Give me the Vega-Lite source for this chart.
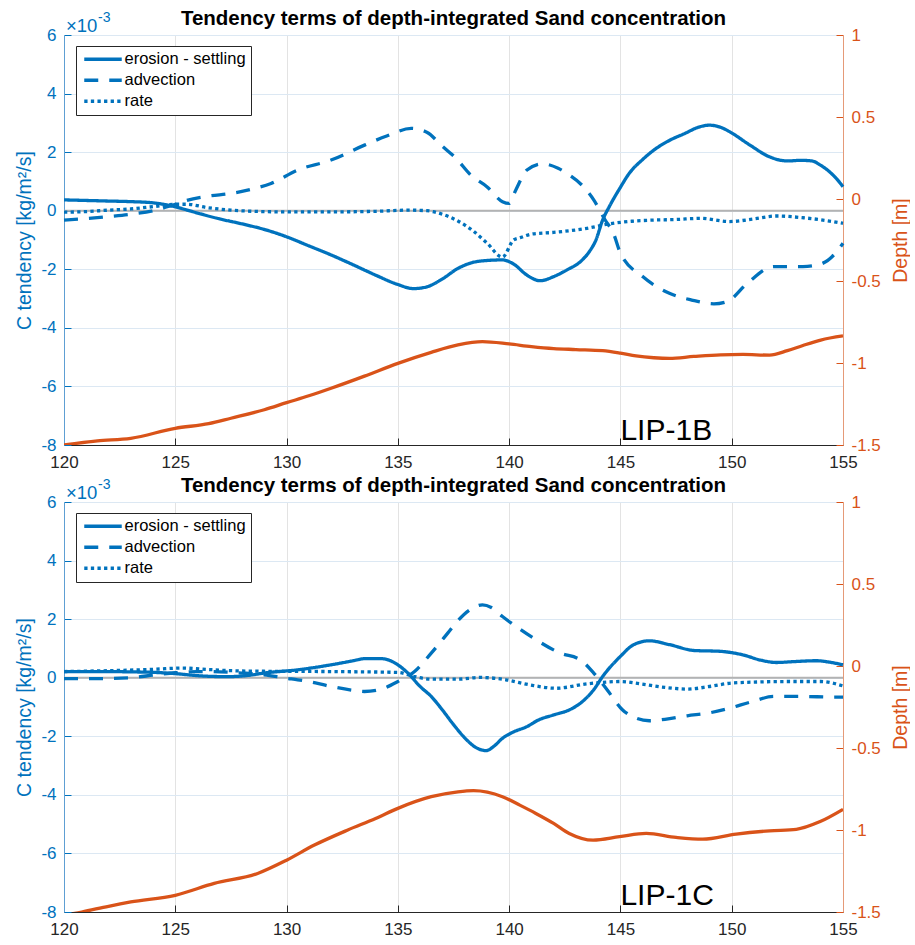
{
  "$schema": "https://vega.github.io/schema/vega-lite/v6.json",
  "padding": {"left": 14, "top": 8, "right": 0, "bottom": 2},
  "bounds": "flush",
  "spacing": 57,
  "config": {
    "view": {"stroke": null},
    "font": "Liberation Sans",
    "axis": {"labelFont": "Liberation Sans", "titleFont": "Liberation Sans", "labelFlush": false, "labelOverlap": false}
  },
  "datasets": {
    "zero": [{"v": 0}],
    "topTerms": [
      {"x":120,"v":0.37,"t":"erosion - settling"},{"x":121,"v":0.35,"t":"erosion - settling"},{"x":122,"v":0.33,"t":"erosion - settling"},{"x":123,"v":0.31,"t":"erosion - settling"},{"x":124,"v":0.27,"t":"erosion - settling"},{"x":124.6,"v":0.2,"t":"erosion - settling"},{"x":125,"v":0.13,"t":"erosion - settling"},{"x":125.5,"v":0.03,"t":"erosion - settling"},{"x":126,"v":-0.08,"t":"erosion - settling"},{"x":127,"v":-0.28,"t":"erosion - settling"},{"x":128,"v":-0.45,"t":"erosion - settling"},{"x":129,"v":-0.64,"t":"erosion - settling"},{"x":130,"v":-0.89,"t":"erosion - settling"},{"x":131,"v":-1.2,"t":"erosion - settling"},{"x":132,"v":-1.51,"t":"erosion - settling"},{"x":133,"v":-1.85,"t":"erosion - settling"},{"x":134,"v":-2.2,"t":"erosion - settling"},{"x":135,"v":-2.52,"t":"erosion - settling"},{"x":135.7,"v":-2.66,"t":"erosion - settling"},{"x":136.3,"v":-2.6,"t":"erosion - settling"},{"x":137,"v":-2.33,"t":"erosion - settling"},{"x":137.7,"v":-1.97,"t":"erosion - settling"},{"x":138.3,"v":-1.78,"t":"erosion - settling"},{"x":139,"v":-1.7,"t":"erosion - settling"},{"x":139.7,"v":-1.68,"t":"erosion - settling"},{"x":140.2,"v":-1.82,"t":"erosion - settling"},{"x":140.8,"v":-2.2,"t":"erosion - settling"},{"x":141.4,"v":-2.39,"t":"erosion - settling"},{"x":142,"v":-2.25,"t":"erosion - settling"},{"x":142.6,"v":-2.02,"t":"erosion - settling"},{"x":143.2,"v":-1.74,"t":"erosion - settling"},{"x":143.6,"v":-1.4,"t":"erosion - settling"},{"x":143.9,"v":-1.0,"t":"erosion - settling"},{"x":144.2,"v":-0.32,"t":"erosion - settling"},{"x":144.5,"v":0.14,"t":"erosion - settling"},{"x":145,"v":0.8,"t":"erosion - settling"},{"x":145.4,"v":1.28,"t":"erosion - settling"},{"x":146,"v":1.75,"t":"erosion - settling"},{"x":146.5,"v":2.07,"t":"erosion - settling"},{"x":147.2,"v":2.4,"t":"erosion - settling"},{"x":147.9,"v":2.64,"t":"erosion - settling"},{"x":148.5,"v":2.85,"t":"erosion - settling"},{"x":149,"v":2.92,"t":"erosion - settling"},{"x":149.5,"v":2.85,"t":"erosion - settling"},{"x":149.9,"v":2.7,"t":"erosion - settling"},{"x":150.8,"v":2.25,"t":"erosion - settling"},{"x":151.7,"v":1.84,"t":"erosion - settling"},{"x":152.5,"v":1.7,"t":"erosion - settling"},{"x":153.1,"v":1.72,"t":"erosion - settling"},{"x":153.6,"v":1.7,"t":"erosion - settling"},{"x":154,"v":1.55,"t":"erosion - settling"},{"x":154.3,"v":1.39,"t":"erosion - settling"},{"x":154.7,"v":1.1,"t":"erosion - settling"},{"x":155,"v":0.82,"t":"erosion - settling"},
      {"x":120,"v":-0.32,"t":"advection"},{"x":121,"v":-0.27,"t":"advection"},{"x":122,"v":-0.2,"t":"advection"},{"x":123,"v":-0.12,"t":"advection"},{"x":124,"v":0.0,"t":"advection"},{"x":125,"v":0.22,"t":"advection"},{"x":125.5,"v":0.35,"t":"advection"},{"x":126.5,"v":0.5,"t":"advection"},{"x":127.5,"v":0.59,"t":"advection"},{"x":128.5,"v":0.75,"t":"advection"},{"x":129.3,"v":0.93,"t":"advection"},{"x":130.5,"v":1.39,"t":"advection"},{"x":132,"v":1.73,"t":"advection"},{"x":133.5,"v":2.24,"t":"advection"},{"x":134.5,"v":2.55,"t":"advection"},{"x":135.6,"v":2.81,"t":"advection"},{"x":136.3,"v":2.68,"t":"advection"},{"x":137,"v":2.2,"t":"advection"},{"x":137.6,"v":1.8,"t":"advection"},{"x":138.3,"v":1.2,"t":"advection"},{"x":139,"v":0.82,"t":"advection"},{"x":139.7,"v":0.31,"t":"advection"},{"x":140,"v":0.25,"t":"advection"},{"x":140.3,"v":0.71,"t":"advection"},{"x":140.8,"v":1.39,"t":"advection"},{"x":141.5,"v":1.6,"t":"advection"},{"x":142.2,"v":1.45,"t":"advection"},{"x":142.7,"v":1.22,"t":"advection"},{"x":143.3,"v":0.85,"t":"advection"},{"x":143.8,"v":0.37,"t":"advection"},{"x":144.3,"v":-0.3,"t":"advection"},{"x":144.7,"v":-0.8,"t":"advection"},{"x":145,"v":-1.45,"t":"advection"},{"x":146,"v":-2.25,"t":"advection"},{"x":147.2,"v":-2.82,"t":"advection"},{"x":148.2,"v":-3.05,"t":"advection"},{"x":149.2,"v":-3.18,"t":"advection"},{"x":149.8,"v":-3.1,"t":"advection"},{"x":150.7,"v":-2.48,"t":"advection"},{"x":151.9,"v":-1.91,"t":"advection"},{"x":153.2,"v":-1.91,"t":"advection"},{"x":154,"v":-1.82,"t":"advection"},{"x":154.6,"v":-1.5,"t":"advection"},{"x":155,"v":-1.11,"t":"advection"},
      {"x":120,"v":-0.05,"t":"rate"},{"x":121,"v":-0.03,"t":"rate"},{"x":122,"v":0.02,"t":"rate"},{"x":123,"v":0.06,"t":"rate"},{"x":124,"v":0.14,"t":"rate"},{"x":125,"v":0.22,"t":"rate"},{"x":125.5,"v":0.22,"t":"rate"},{"x":126.5,"v":0.1,"t":"rate"},{"x":127.5,"v":0.02,"t":"rate"},{"x":128.5,"v":-0.02,"t":"rate"},{"x":130,"v":-0.04,"t":"rate"},{"x":132,"v":-0.04,"t":"rate"},{"x":134,"v":-0.02,"t":"rate"},{"x":135.5,"v":0.02,"t":"rate"},{"x":136.3,"v":0.0,"t":"rate"},{"x":137,"v":-0.12,"t":"rate"},{"x":137.7,"v":-0.35,"t":"rate"},{"x":138.4,"v":-0.7,"t":"rate"},{"x":139,"v":-1.1,"t":"rate"},{"x":139.7,"v":-1.58,"t":"rate"},{"x":140.2,"v":-1.0,"t":"rate"},{"x":140.5,"v":-0.92,"t":"rate"},{"x":141,"v":-0.8,"t":"rate"},{"x":142,"v":-0.74,"t":"rate"},{"x":143.5,"v":-0.6,"t":"rate"},{"x":144.5,"v":-0.45,"t":"rate"},{"x":145.5,"v":-0.36,"t":"rate"},{"x":146.5,"v":-0.32,"t":"rate"},{"x":147.5,"v":-0.3,"t":"rate"},{"x":148.6,"v":-0.26,"t":"rate"},{"x":149.9,"v":-0.37,"t":"rate"},{"x":151,"v":-0.28,"t":"rate"},{"x":152,"v":-0.18,"t":"rate"},{"x":153.2,"v":-0.24,"t":"rate"},{"x":154.2,"v":-0.33,"t":"rate"},{"x":155,"v":-0.43,"t":"rate"}
    ],
    "topDepth": [
      {"x":120,"d":-1.5},{"x":121.5,"d":-1.475},{"x":123,"d":-1.459},{"x":125,"d":-1.398},{"x":126.5,"d":-1.37},{"x":127.5,"d":-1.337},{"x":129,"d":-1.285},{"x":130,"d":-1.242},{"x":131,"d":-1.2},{"x":132,"d":-1.154},{"x":133.5,"d":-1.08},{"x":135,"d":-1.002},{"x":136.5,"d":-0.935},{"x":137.7,"d":-0.89},{"x":138.8,"d":-0.87},{"x":140,"d":-0.884},{"x":141,"d":-0.9},{"x":142,"d":-0.912},{"x":143,"d":-0.918},{"x":144.2,"d":-0.925},{"x":145,"d":-0.94},{"x":145.7,"d":-0.957},{"x":146.5,"d":-0.968},{"x":147.2,"d":-0.972},{"x":148.3,"d":-0.96},{"x":149.5,"d":-0.95},{"x":150.5,"d":-0.948},{"x":151.7,"d":-0.952},{"x":152.5,"d":-0.925},{"x":153.2,"d":-0.893},{"x":154,"d":-0.86},{"x":155,"d":-0.835}
    ],
    "botTerms": [
      {"x":120,"v":0.21,"t":"erosion - settling"},{"x":121.5,"v":0.21,"t":"erosion - settling"},{"x":123,"v":0.2,"t":"erosion - settling"},{"x":124.1,"v":0.18,"t":"erosion - settling"},{"x":125,"v":0.14,"t":"erosion - settling"},{"x":126,"v":0.07,"t":"erosion - settling"},{"x":127,"v":0.04,"t":"erosion - settling"},{"x":127.5,"v":0.04,"t":"erosion - settling"},{"x":128.3,"v":0.08,"t":"erosion - settling"},{"x":129,"v":0.16,"t":"erosion - settling"},{"x":130.5,"v":0.27,"t":"erosion - settling"},{"x":132,"v":0.44,"t":"erosion - settling"},{"x":133,"v":0.58,"t":"erosion - settling"},{"x":133.5,"v":0.65,"t":"erosion - settling"},{"x":134.25,"v":0.65,"t":"erosion - settling"},{"x":134.7,"v":0.57,"t":"erosion - settling"},{"x":135,"v":0.44,"t":"erosion - settling"},{"x":135.45,"v":0.16,"t":"erosion - settling"},{"x":136,"v":-0.3,"t":"erosion - settling"},{"x":136.5,"v":-0.64,"t":"erosion - settling"},{"x":137,"v":-1.1,"t":"erosion - settling"},{"x":137.5,"v":-1.6,"t":"erosion - settling"},{"x":138,"v":-2.05,"t":"erosion - settling"},{"x":138.5,"v":-2.38,"t":"erosion - settling"},{"x":138.97,"v":-2.49,"t":"erosion - settling"},{"x":139.3,"v":-2.35,"t":"erosion - settling"},{"x":139.7,"v":-2.07,"t":"erosion - settling"},{"x":140.2,"v":-1.85,"t":"erosion - settling"},{"x":140.8,"v":-1.67,"t":"erosion - settling"},{"x":141.3,"v":-1.45,"t":"erosion - settling"},{"x":142,"v":-1.27,"t":"erosion - settling"},{"x":142.7,"v":-1.1,"t":"erosion - settling"},{"x":143.2,"v":-0.87,"t":"erosion - settling"},{"x":143.8,"v":-0.41,"t":"erosion - settling"},{"x":144.2,"v":0.04,"t":"erosion - settling"},{"x":145,"v":0.73,"t":"erosion - settling"},{"x":145.6,"v":1.13,"t":"erosion - settling"},{"x":146.3,"v":1.26,"t":"erosion - settling"},{"x":147.2,"v":1.13,"t":"erosion - settling"},{"x":148.3,"v":0.93,"t":"erosion - settling"},{"x":149.5,"v":0.9,"t":"erosion - settling"},{"x":150.5,"v":0.78,"t":"erosion - settling"},{"x":151.3,"v":0.6,"t":"erosion - settling"},{"x":152,"v":0.52,"t":"erosion - settling"},{"x":152.8,"v":0.55,"t":"erosion - settling"},{"x":153.8,"v":0.58,"t":"erosion - settling"},{"x":154.4,"v":0.53,"t":"erosion - settling"},{"x":155,"v":0.44,"t":"erosion - settling"},
      {"x":120,"v":-0.03,"t":"advection"},{"x":121.5,"v":-0.03,"t":"advection"},{"x":123,"v":0.0,"t":"advection"},{"x":124.1,"v":0.1,"t":"advection"},{"x":125,"v":0.17,"t":"advection"},{"x":126,"v":0.21,"t":"advection"},{"x":127,"v":0.2,"t":"advection"},{"x":128,"v":0.16,"t":"advection"},{"x":129,"v":0.1,"t":"advection"},{"x":130,"v":-0.02,"t":"advection"},{"x":130.5,"v":-0.07,"t":"advection"},{"x":131.3,"v":-0.18,"t":"advection"},{"x":132,"v":-0.3,"t":"advection"},{"x":133,"v":-0.43,"t":"advection"},{"x":133.5,"v":-0.47,"t":"advection"},{"x":134.25,"v":-0.39,"t":"advection"},{"x":135,"v":-0.13,"t":"advection"},{"x":135.75,"v":0.21,"t":"advection"},{"x":136.5,"v":0.84,"t":"advection"},{"x":137.25,"v":1.53,"t":"advection"},{"x":137.7,"v":1.95,"t":"advection"},{"x":138.3,"v":2.35,"t":"advection"},{"x":138.8,"v":2.49,"t":"advection"},{"x":139.2,"v":2.4,"t":"advection"},{"x":139.7,"v":2.09,"t":"advection"},{"x":140.5,"v":1.65,"t":"advection"},{"x":141.2,"v":1.3,"t":"advection"},{"x":142.3,"v":0.84,"t":"advection"},{"x":143.2,"v":0.61,"t":"advection"},{"x":143.8,"v":0.16,"t":"advection"},{"x":144.4,"v":-0.41,"t":"advection"},{"x":145.1,"v":-1.1,"t":"advection"},{"x":145.7,"v":-1.38,"t":"advection"},{"x":146.3,"v":-1.47,"t":"advection"},{"x":147,"v":-1.42,"t":"advection"},{"x":148,"v":-1.3,"t":"advection"},{"x":149,"v":-1.2,"t":"advection"},{"x":149.9,"v":-1.04,"t":"advection"},{"x":150.9,"v":-0.82,"t":"advection"},{"x":151.9,"v":-0.64,"t":"advection"},{"x":153.2,"v":-0.64,"t":"advection"},{"x":154.5,"v":-0.66,"t":"advection"},{"x":155,"v":-0.66,"t":"advection"},
      {"x":120,"v":0.21,"t":"rate"},{"x":122,"v":0.24,"t":"rate"},{"x":124.1,"v":0.29,"t":"rate"},{"x":125.3,"v":0.33,"t":"rate"},{"x":126.5,"v":0.28,"t":"rate"},{"x":127.5,"v":0.24,"t":"rate"},{"x":129,"v":0.22,"t":"rate"},{"x":132,"v":0.21,"t":"rate"},{"x":135,"v":0.18,"t":"rate"},{"x":135.75,"v":0.04,"t":"rate"},{"x":136.5,"v":-0.05,"t":"rate"},{"x":137.7,"v":-0.05,"t":"rate"},{"x":138.7,"v":0.01,"t":"rate"},{"x":139.85,"v":-0.07,"t":"rate"},{"x":140.9,"v":-0.24,"t":"rate"},{"x":142.1,"v":-0.36,"t":"rate"},{"x":143.5,"v":-0.21,"t":"rate"},{"x":145,"v":-0.13,"t":"rate"},{"x":145.9,"v":-0.21,"t":"rate"},{"x":147,"v":-0.33,"t":"rate"},{"x":148,"v":-0.39,"t":"rate"},{"x":149,"v":-0.3,"t":"rate"},{"x":149.9,"v":-0.19,"t":"rate"},{"x":151,"v":-0.15,"t":"rate"},{"x":152.5,"v":-0.13,"t":"rate"},{"x":154,"v":-0.13,"t":"rate"},{"x":155,"v":-0.28,"t":"rate"}
    ],
    "botDepth": [
      {"x":120,"d":-1.52},{"x":120.8,"d":-1.5},{"x":122,"d":-1.465},{"x":123,"d":-1.439},{"x":125,"d":-1.398},{"x":126.75,"d":-1.326},{"x":128.7,"d":-1.265},{"x":130,"d":-1.184},{"x":131.25,"d":-1.092},{"x":132.75,"d":-1.0},{"x":134,"d":-0.93},{"x":135,"d":-0.868},{"x":136.5,"d":-0.797},{"x":137.7,"d":-0.767},{"x":138.4,"d":-0.76},{"x":139.7,"d":-0.797},{"x":140.5,"d":-0.85},{"x":141.2,"d":-0.899},{"x":142,"d":-0.96},{"x":142.7,"d":-1.021},{"x":143.77,"d":-1.062},{"x":144.96,"d":-1.041},{"x":146.16,"d":-1.021},{"x":147.5,"d":-1.045},{"x":148.7,"d":-1.056},{"x":150.2,"d":-1.025},{"x":151.7,"d":-1.005},{"x":152.9,"d":-0.996},{"x":153.95,"d":-0.95},{"x":155,"d":-0.874}
    ],
    "note": [{"x":120,"y":6,"base":"×10","exp":"-3"}],
    "topLabel": [{"x":145,"y":-7.83,"label":"LIP-1B"}],
    "botLabel": [{"x":145,"y":-7.77,"label":"LIP-1C"}]
  },
  "vconcat": [
    {
      "width": 779, "height": 410,
      "title": {"text": "Tendency terms of depth-integrated Sand concentration", "anchor": "middle", "offset": 8, "dy": 26, "fontSize": 20.5, "fontWeight": "bold", "color": "black", "font": "Liberation Sans"},
      "layer": [
        {
          "layer": [
            {"data": {"name": "zero"}, "mark": {"type": "rule", "color": "#b3b3b3", "strokeWidth": 2}, "encoding": {"y": {"field": "v", "type": "quantitative"}}},
            {
              "data": {"name": "topTerms"},
              "mark": {"type": "line", "color": "#0072BD", "strokeWidth": 3.3, "interpolate": "monotone"},
              "encoding": {
                "x": {"field": "x", "type": "quantitative", "scale": {"domain": [120, 155], "nice": false, "zero": false},
                  "axis": {"title": null, "values": [120,125,130,135,140,145,150,155], "labelExpr": "datum.value + ''", "grid": true, "gridColor": "#e3e3e3", "domainColor": "#262626", "tickColor": "#262626", "tickSize": -7, "labelPadding": 16, "labelColor": "#262626", "labelFontSize": 17}},
                "y": {"field": "v", "type": "quantitative", "scale": {"domain": [-8, 6], "nice": false, "zero": false},
                  "axis": {"title": "C tendency [kg/m²/s]", "values": [-8,-6,-4,-2,0,2,4,6], "labelExpr": "datum.value + ''", "grid": true, "gridColor": "#dce8f3", "domainColor": "#5e9fd3", "tickColor": "#0072BD", "tickSize": -7, "labelPadding": 15, "labelColor": "#0072BD", "labelFontSize": 17, "titleColor": "#0072BD", "titleFontSize": 19.5, "titleFontWeight": "normal", "titlePadding": 6}},
                "strokeDash": {"field": "t", "type": "nominal",
                  "scale": {"domain": ["erosion - settling", "advection", "rate"], "range": [[1, 0], [14, 11], [3.3, 3.3]]},
                  "legend": {"title": null, "orient": "none", "legendX": 12, "legendY": 11, "strokeColor": "#262626", "fillColor": "white", "padding": 5, "symbolType": "M-1,0H6.5", "symbolFillColor": "transparent", "symbolStrokeWidth": 3.3, "symbolStrokeColor": "#0072BD", "symbolSize": 100, "labelFontSize": 16.5, "labelColor": "black", "labelFont": "Liberation Sans", "labelOffset": 27, "rowPadding": 4}}
              }
            },
            {"data": {"name": "note"}, "mark": {"type": "text", "align": "left", "baseline": "alphabetic", "dx": 2, "dy": -3, "fontSize": 18.5, "color": "#0072BD"}, "encoding": {"x": {"field": "x", "type": "quantitative"}, "y": {"field": "y", "type": "quantitative"}, "text": {"field": "base"}}},
            {"data": {"name": "note"}, "mark": {"type": "text", "align": "left", "baseline": "alphabetic", "dx": 34, "dy": -13, "fontSize": 14, "color": "#0072BD"}, "encoding": {"x": {"field": "x", "type": "quantitative"}, "y": {"field": "y", "type": "quantitative"}, "text": {"field": "exp"}}},
            {"data": {"name": "topLabel"}, "mark": {"type": "text", "align": "left", "baseline": "alphabetic", "fontSize": 30, "color": "black"}, "encoding": {"x": {"field": "x", "type": "quantitative"}, "y": {"field": "y", "type": "quantitative"}, "text": {"field": "label"}}}
          ]
        },
        {
          "data": {"name": "topDepth"},
          "mark": {"type": "line", "color": "#D95319", "strokeWidth": 3.3, "interpolate": "monotone", "clip": true},
          "encoding": {
            "x": {"field": "x", "type": "quantitative"},
            "y": {"field": "d", "type": "quantitative", "scale": {"domain": [-1.5, 1], "nice": false, "zero": false},
              "axis": {"orient": "right", "title": "Depth [m]", "titleAngle": 270, "titleBaseline": "top", "values": [-1.5,-1,-0.5,0,0.5,1], "labelExpr": "datum.value + ''", "grid": false, "domainColor": "#e59a78", "tickColor": "#D95319", "tickSize": -7, "labelPadding": 15, "labelColor": "#D95319", "labelFontSize": 17, "titleColor": "#D95319", "titleFontSize": 19.5, "titleFontWeight": "normal", "titlePadding": 11}}
          }
        }
      ],
      "resolve": {"scale": {"y": "independent"}}
    },
    {
      "width": 779, "height": 410,
      "title": {"text": "Tendency terms of depth-integrated Sand concentration", "anchor": "middle", "offset": 8, "dy": 26, "fontSize": 20.5, "fontWeight": "bold", "color": "black", "font": "Liberation Sans"},
      "layer": [
        {
          "layer": [
            {"data": {"name": "zero"}, "mark": {"type": "rule", "color": "#b3b3b3", "strokeWidth": 2}, "encoding": {"y": {"field": "v", "type": "quantitative"}}},
            {
              "data": {"name": "botTerms"},
              "mark": {"type": "line", "color": "#0072BD", "strokeWidth": 3.3, "interpolate": "monotone"},
              "encoding": {
                "x": {"field": "x", "type": "quantitative", "scale": {"domain": [120, 155], "nice": false, "zero": false},
                  "axis": {"title": null, "values": [120,125,130,135,140,145,150,155], "labelExpr": "datum.value + ''", "grid": true, "gridColor": "#e3e3e3", "domainColor": "#262626", "tickColor": "#262626", "tickSize": -7, "labelPadding": 16, "labelColor": "#262626", "labelFontSize": 17}},
                "y": {"field": "v", "type": "quantitative", "scale": {"domain": [-8, 6], "nice": false, "zero": false},
                  "axis": {"title": "C tendency [kg/m²/s]", "values": [-8,-6,-4,-2,0,2,4,6], "labelExpr": "datum.value + ''", "grid": true, "gridColor": "#dce8f3", "domainColor": "#5e9fd3", "tickColor": "#0072BD", "tickSize": -7, "labelPadding": 15, "labelColor": "#0072BD", "labelFontSize": 17, "titleColor": "#0072BD", "titleFontSize": 19.5, "titleFontWeight": "normal", "titlePadding": 6}},
                "strokeDash": {"field": "t", "type": "nominal",
                  "scale": {"domain": ["erosion - settling", "advection", "rate"], "range": [[1, 0], [14, 11], [3.3, 3.3]]},
                  "legend": {"title": null, "orient": "none", "legendX": 12, "legendY": 11, "strokeColor": "#262626", "fillColor": "white", "padding": 5, "symbolType": "M-1,0H6.5", "symbolFillColor": "transparent", "symbolStrokeWidth": 3.3, "symbolStrokeColor": "#0072BD", "symbolSize": 100, "labelFontSize": 16.5, "labelColor": "black", "labelFont": "Liberation Sans", "labelOffset": 27, "rowPadding": 4}}
              }
            },
            {"data": {"name": "note"}, "mark": {"type": "text", "align": "left", "baseline": "alphabetic", "dx": 2, "dy": -3, "fontSize": 18.5, "color": "#0072BD"}, "encoding": {"x": {"field": "x", "type": "quantitative"}, "y": {"field": "y", "type": "quantitative"}, "text": {"field": "base"}}},
            {"data": {"name": "note"}, "mark": {"type": "text", "align": "left", "baseline": "alphabetic", "dx": 34, "dy": -13, "fontSize": 14, "color": "#0072BD"}, "encoding": {"x": {"field": "x", "type": "quantitative"}, "y": {"field": "y", "type": "quantitative"}, "text": {"field": "exp"}}},
            {"data": {"name": "botLabel"}, "mark": {"type": "text", "align": "left", "baseline": "alphabetic", "fontSize": 30, "color": "black"}, "encoding": {"x": {"field": "x", "type": "quantitative"}, "y": {"field": "y", "type": "quantitative"}, "text": {"field": "label"}}}
          ]
        },
        {
          "data": {"name": "botDepth"},
          "mark": {"type": "line", "color": "#D95319", "strokeWidth": 3.3, "interpolate": "monotone", "clip": true},
          "encoding": {
            "x": {"field": "x", "type": "quantitative"},
            "y": {"field": "d", "type": "quantitative", "scale": {"domain": [-1.5, 1], "nice": false, "zero": false},
              "axis": {"orient": "right", "title": "Depth [m]", "titleAngle": 270, "titleBaseline": "top", "values": [-1.5,-1,-0.5,0,0.5,1], "labelExpr": "datum.value + ''", "grid": false, "domainColor": "#e59a78", "tickColor": "#D95319", "tickSize": -7, "labelPadding": 15, "labelColor": "#D95319", "labelFontSize": 17, "titleColor": "#D95319", "titleFontSize": 19.5, "titleFontWeight": "normal", "titlePadding": 11}}
          }
        }
      ],
      "resolve": {"scale": {"y": "independent"}}
    }
  ],
  "resolve": {"scale": {"x": "independent", "strokeDash": "independent"}, "legend": {"strokeDash": "independent"}}
}
